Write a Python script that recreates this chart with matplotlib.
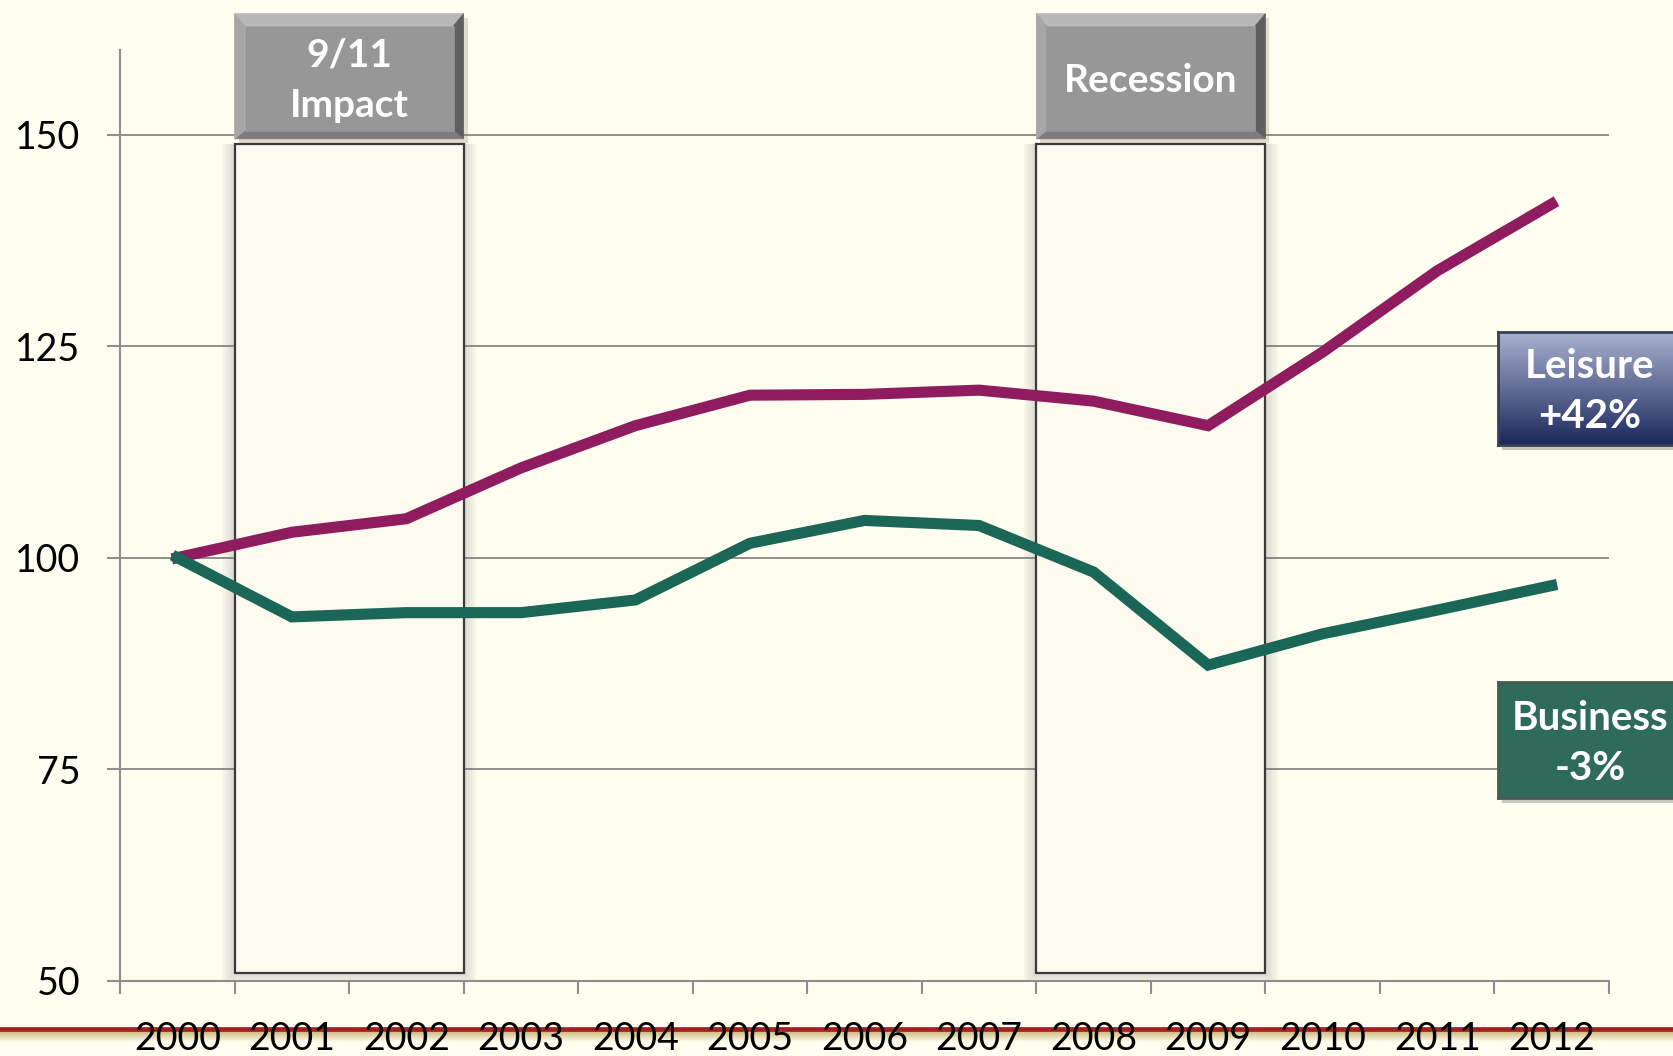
import matplotlib
matplotlib.use("Agg")
import matplotlib.pyplot as plt
import numpy as np
from matplotlib.patches import Rectangle, Polygon
from matplotlib.lines import Line2D

# index values (2000 = 100)
years = [str(y) for y in range(2000, 2013)]
leisure = [100, 103.0, 104.6, 110.6, 115.6, 119.2, 119.3, 119.8, 118.5, 115.6, 124.3, 133.9, 141.8]
business = [100, 93.0, 93.5, 93.5, 95.0, 101.7, 104.4, 103.8, 98.3, 87.3, 91.0, 93.8, 96.7]
yticks = [50, 75, 100, 125, 150]
# shaded periods: label, first year index, last year index
events = [("9/11\nImpact", 1, 2), ("Recession", 8, 9)]

BG = "#FEFDF0"
GRID = "#8E8E8E"
PURPLE = "#8E1C5E"
GREEN = "#1A6657"
FONT = ["Lato", "DejaVu Sans"]

W, H = 1674, 1056
fig = plt.figure(figsize=(W / 100, H / 100), dpi=100, facecolor=BG)
ax = fig.add_axes([120 / W, 1 - 980.7 / H, (1609 - 120) / W, (980.7 - 50) / H])
ax.set_facecolor(BG)
ax.set_xlim(-0.5, len(years) - 0.5)
ax.set_ylim(50, 160)

for s in ("top", "right"):
    ax.spines[s].set_visible(False)
for s in ("left", "bottom"):
    ax.spines[s].set_color(GRID)
    ax.spines[s].set_linewidth(1.5)

ax.set_yticks(yticks)
ax.set_yticklabels([str(v) for v in yticks], fontsize=27, family=FONT)
ax.tick_params(axis="y", length=9.5, width=1.5, color=GRID, pad=19)
for v in yticks[1:]:
    ax.axhline(v, color=GRID, lw=1.4, zorder=1)

ax.set_xticks(np.arange(-0.5, len(years)), labels=[""] * (len(years) + 1))
ax.set_xticks(np.arange(len(years)), labels=years, minor=True)
ax.tick_params(axis="x", which="major", length=9.5, width=1.5, color=GRID)
ax.tick_params(axis="x", which="minor", length=0, pad=29, labelsize=27)
for t in ax.get_xticklabels(minor=True):
    t.set_family(FONT)

fig.canvas.draw()
inv = ax.transData.inverted()
def px(dx, dy):
    (a, b), (c, d) = inv.transform([(0, 0), (dx, dy)])
    return c - a, d - b

# shaded event panels + bevelled header boxes
for label, i0, i1 in events:
    x0, x1 = i0 - 0.5, i1 + 0.5
    y0, y1 = 50.95, 148.9
    for k in range(1, 9):
        ex, ey = px(k * 1.6, k * 1.6)
        ax.add_patch(Rectangle((x0 - ex, y0 - ey), x1 - x0 + 2 * ex, y1 - y0 + ey,
                               facecolor="#707070", alpha=0.03, lw=0, zorder=2))
    ax.add_patch(Rectangle((x0, y0), x1 - x0, y1 - y0, facecolor="#FCF9EE",
                           edgecolor="#3A3A3A", lw=1.6, zorder=2))

    hy0, hy1 = 149.5, 164.3
    sx, sy = px(4, -4)
    ax.add_patch(Rectangle((x0 + sx, hy0 + sy), x1 - x0, hy1 - hy0, facecolor="#808060",
                           alpha=0.25, lw=0, zorder=5, clip_on=False))
    bl, bt = px(10, 12)
    br, bb = px(10, 8)
    o = [(x0, hy1), (x1, hy1), (x1, hy0), (x0, hy0)]
    n = [(x0 + bl, hy1 - bt), (x1 - br, hy1 - bt), (x1 - br, hy0 + bb), (x0 + bl, hy0 + bb)]
    faces = [([o[0], o[1], n[1], n[0]], "#B8B8B8"), ([o[1], o[2], n[2], n[1]], "#5E5E5E"),
             ([o[2], o[3], n[3], n[2]], "#7C7C7C"), ([o[3], o[0], n[0], n[3]], "#A6A6A6"),
             (n, "#979797")]
    for pts, c in faces:
        ax.add_patch(Polygon(pts, closed=True, facecolor=c, edgecolor=c, lw=0.5,
                             zorder=6, clip_on=False))
    ax.text((x0 + x1) / 2, (hy0 + hy1) / 2 - 0.5, label, ha="center", va="center",
            color="white", fontsize=28, fontweight="bold", family=FONT,
            linespacing=1.55, zorder=7, clip_on=False)

ax.plot(range(len(years)), leisure, color=PURPLE, lw=8, zorder=4, solid_joinstyle="miter")
ax.plot(range(len(years)), business, color=GREEN, lw=8, zorder=4, solid_joinstyle="miter")

# end-of-series callouts
def callout(top, bottom, text, colors, edge):
    l, r = 1498 / W, 1682 / W
    b, h = 1 - bottom / H, (bottom - top) / H
    sh = fig.add_axes([l + 4 / W, b - 5 / H, r - l, h], zorder=2)
    sh.set_facecolor("#606060"); sh.patch.set_alpha(0.35); sh.set_xticks([]); sh.set_yticks([])
    for s in sh.spines.values():
        s.set_visible(False)
    cax = fig.add_axes([l, b, r - l, h], zorder=3)
    grad = np.linspace(0, 1, 100)[:, None, None]
    c0, c1 = np.array(matplotlib.colors.to_rgb(colors[0])), np.array(matplotlib.colors.to_rgb(colors[1]))
    img = c0 * (1 - grad) + c1 * grad
    cax.imshow(img, aspect="auto", extent=[0, 1, 0, 1])
    cax.set_xticks([]); cax.set_yticks([])
    for s in cax.spines.values():
        s.set_color(edge); s.set_linewidth(2)
    cax.text(0.5, 0.47, text, transform=cax.transAxes, ha="center", va="center",
             color="white", fontsize=29, fontweight="bold", family=FONT, linespacing=1.43)

lpct = round((leisure[-1] / leisure[0] - 1) * 100)
bpct = round((business[-1] / business[0] - 1) * 100)
callout(331.7, 445, f"Leisure\n{lpct:+d}%", ("#AAB2D0", "#1B285C"), "#3A3F55")
callout(681.7, 798, f"Business\n{bpct:+d}%", ("#2F6B5B", "#2F6B5B"), "#4A5A52")

# bottom red rule with gold fade
rule = Line2D([0, 1], [1 - 1029 / H, 1 - 1029 / H], transform=fig.transFigure,
              color="#A71F26", lw=3.4, zorder=-1)
fig.add_artist(rule)
gax = fig.add_axes([0, 1 - 1042 / H, 1, 11 / H], zorder=-2)
g = np.linspace(0, 1, 50)[:, None, None]
gold = np.array(matplotlib.colors.to_rgb("#CDB778"))
bgc = np.array(matplotlib.colors.to_rgb(BG))
gax.imshow(gold * (1 - g) + bgc * g, aspect="auto", extent=[0, 1, 0, 1])
gax.axis("off")

fig.savefig("out.png", dpi=100, facecolor=BG)
